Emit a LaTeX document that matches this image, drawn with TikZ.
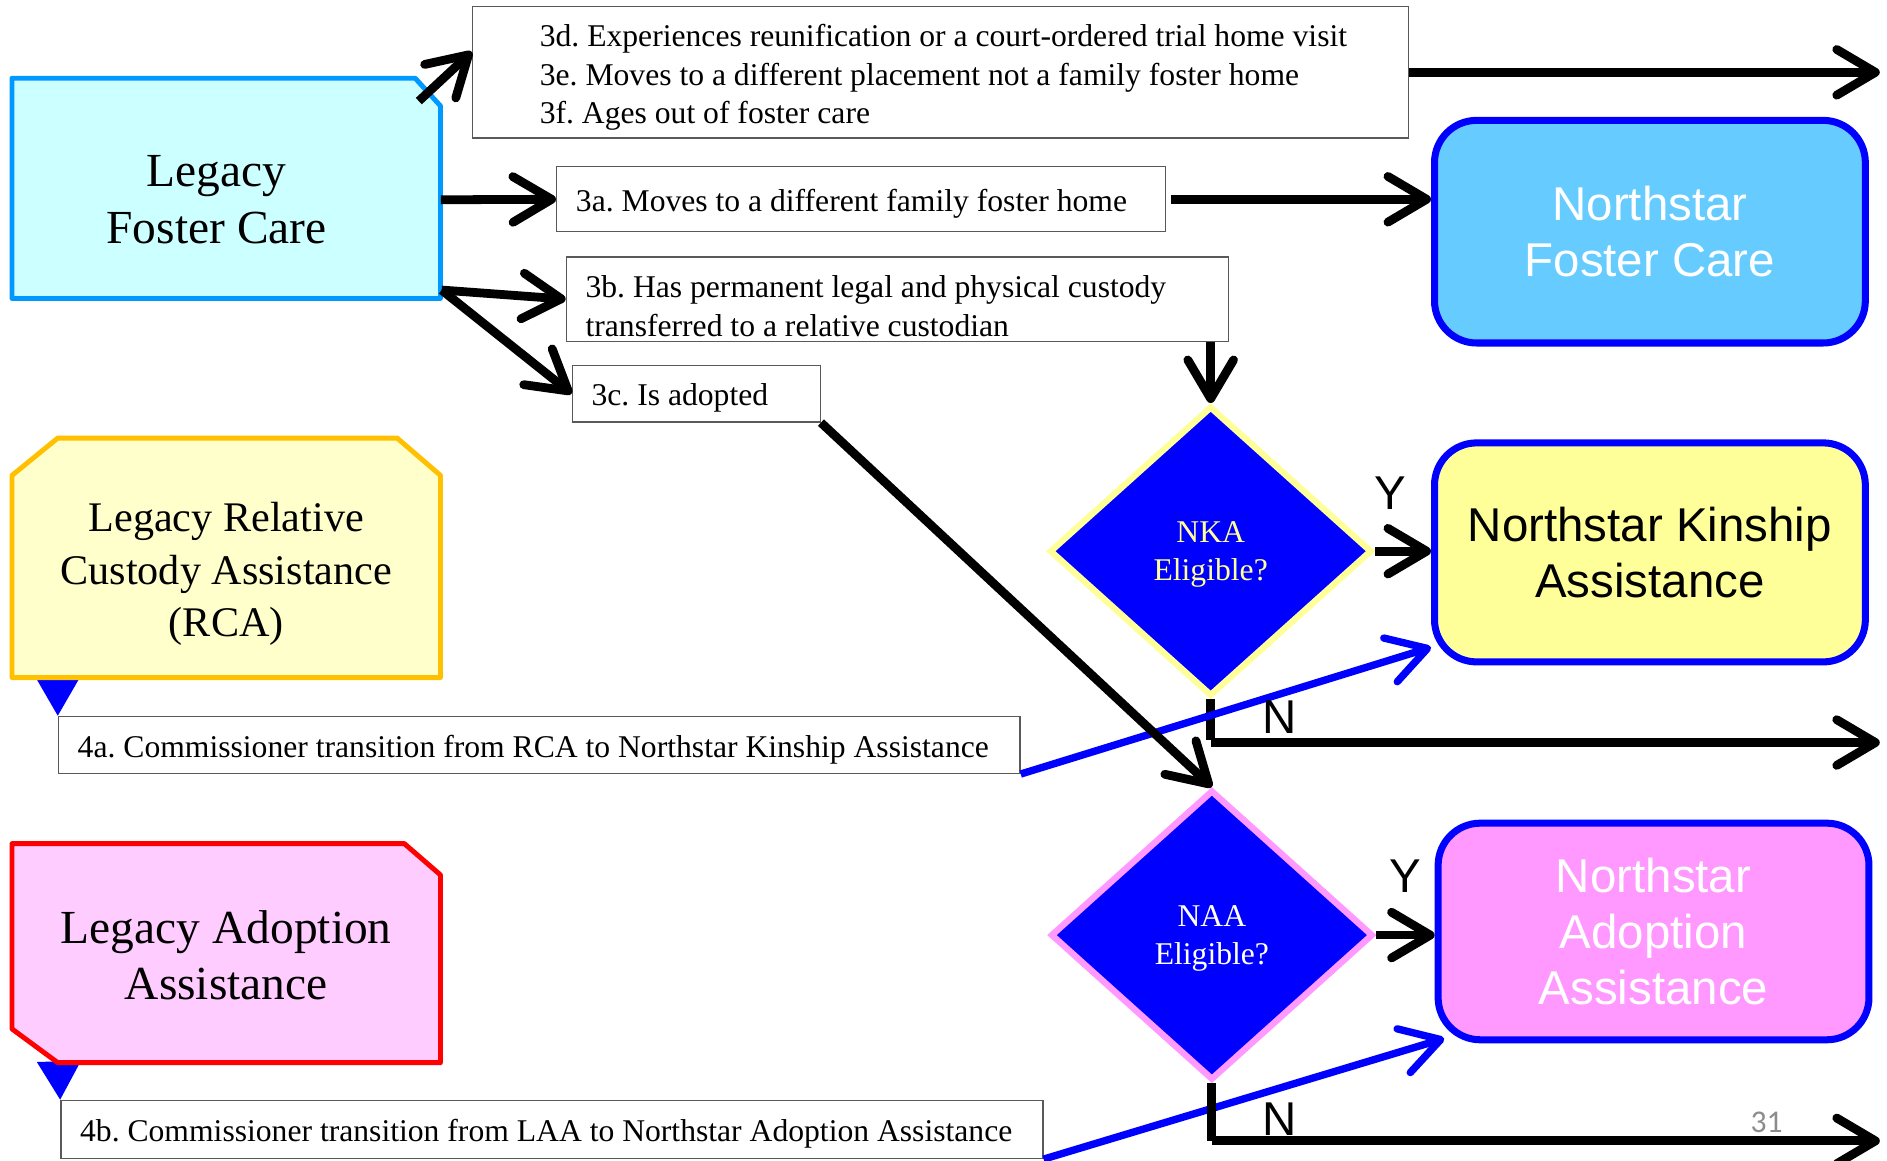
\documentclass[tikz,border=0pt]{standalone}
\usepackage{fontspec}
\setmainfont{Liberation Serif}
\setsansfont{Liberation Sans}
\newfontfamily\numfont{Carlito}
\usetikzlibrary{arrows.meta,shapes.geometric}
\newdimen\dpx
\dpx=0.24068mm
\definecolor{lfcfill}{HTML}{CCFFFF}
\definecolor{lfcline}{HTML}{0099FF}
\definecolor{rcafill}{HTML}{FFFFCC}
\definecolor{rcaline}{HTML}{FFC000}
\definecolor{laafill}{HTML}{FFCCFF}
\definecolor{nfcfill}{HTML}{66CCFF}
\definecolor{nkafill}{HTML}{FFFF99}
\definecolor{naafill}{HTML}{FF99FF}
\definecolor{boxline}{HTML}{595959}
\definecolor{numgray}{HTML}{8C8C8C}
\tikzset{
  flow/.style={line width=5pt, -{Straight Barb[round,length=22pt,width=26pt]}},
  bluflow/.style={flow, blue, line width=4.2pt},
  bluedrop/.style={blue, line width=4.2pt, -{Triangle[length=22pt,width=24pt]}},
  casebox/.style={draw=boxline, line width=0.8pt, fill=white, anchor=north west,
    inner xsep=16\dpx, inner ysep=0pt, align=flush left, text height=17.8pt,
    execute at begin node={\frenchspacing\hyphenpenalty=10000},
    font=\fontsize{18}{22}\selectfont},
  legacyshape/.style={line width=2.8pt, line join=round},
  legacytext/.style={align=center, inner sep=0pt, font=\fontsize{27}{32}\selectfont},
  northbox/.style={draw=blue, line width=4pt, rounded corners=24pt, minimum width=358\dpx,
    align=center, font=\sffamily\fontsize{27}{32}\selectfont},
  question/.style={diamond, fill=blue, line width=3.6pt, minimum width=268\dpx, minimum height=241\dpx,
    inner sep=0pt, align=center, text depth=0pt, font=\fontsize{18}{22}\selectfont},
  yn/.style={inner sep=0pt, font=\sffamily\fontsize{27}{32}\selectfont}
}
\begin{document}
\begin{tikzpicture}[x=\dpx, y=-\dpx]
    \useasboundingbox (0,0) rectangle (1568,964);
    \coordinate (rim) at (1562,0);
    \coordinate (kinship-exit) at (1562,617);
    \coordinate (adoption-exit) at (1562,948);

    % transition boxes
    \node[casebox, text width=706\dpx, inner xsep=36\dpx, text height=18.4pt, minimum height=109\dpx] (d3) at (392,5)
        {\hspace*{20\dpx}3d. Experiences reunification or a court-ordered trial home visit\\
         \hspace*{20\dpx}3e. Moves to a different placement not a family foster home\\
         \hspace*{20\dpx}3f. Ages out of foster care};
    \node[casebox, text width=474\dpx, minimum height=54\dpx] (a3) at (462,138)
        {3a. Moves to a different family foster home};
    \node[casebox, text width=518\dpx, text height=20.4pt, minimum height=70\dpx] (b3) at (470,213)
        {3b. Has permanent legal and physical custody\\transferred to a relative custodian};
    \node[casebox, text width=174\dpx, minimum height=47\dpx] (c3) at (475,303) {3c. Is adopted};
    \node[casebox, text width=767\dpx, minimum height=47\dpx] (a4) at (48,595)
        {4a. Commissioner transition from RCA to Northstar Kinship Assistance};
    \node[casebox, text width=784\dpx, minimum height=48\dpx] (b4) at (50,914)
        {4b. Commissioner transition from LAA to Northstar Adoption Assistance};

    \coordinate (rca-foot) at (48,563);
    \coordinate (laa-foot) at (49,882);
    \draw[bluedrop] (rca-foot) -- (a4.north west);
    \draw[bluedrop] (laa-foot) -- (b4.north west);

    % legacy programs
    \filldraw[legacyshape, fill=lfcfill, draw=lfcline] (10,65) -- (345,65) -- (366,88)
        -- (366,248) -- (10,248) -- cycle;
    \node[legacytext, minimum width=372\dpx] (lfc) at (180,166) {Legacy\\Foster Care};
    \coordinate (lfc-corner) at (348,84);
    \coordinate (lfc-foot) at (367,241);

    \filldraw[legacyshape, fill=rcafill, draw=rcaline] (10,395) -- (48,364) -- (330,364)
        -- (366,395) -- (366,563) -- (10,563) -- cycle;
    \node[legacytext, font=\fontsize{24}{30}\selectfont] (rca) at (188,477)
        {Legacy Relative\\Custody Assistance\\(RCA)};

    \filldraw[legacyshape, fill=laafill, draw=red] (10,701) -- (336,701) -- (366,727)
        -- (366,883) -- (48,883) -- (10,855) -- cycle;
    \node[legacytext] (laa) at (188,794) {Legacy Adoption\\Assistance};

    % northstar programs
    \node[northbox, fill=nfcfill, text=white, minimum height=185\dpx] (nfc) at (1371,192.5)
        {Northstar\\Foster Care};
    \node[northbox, fill=nkafill, minimum height=182\dpx] (nka) at (1371,459)
        {Northstar Kinship\\Assistance};
    \node[northbox, fill=naafill, text=white, minimum height=180\dpx] (naa) at (1374,774)
        {Northstar\\Adoption\\Assistance};

    \node[question, draw=nkafill, text=nkafill] (nkd) at (1006,458) {NKA\\Eligible?};
    \node[question, draw=naafill, text=white] (nad) at (1007,777) {NAA\\Eligible?};

    \draw[flow] (lfc-corner) -- ([yshift=17\dpx]d3.west);
    \draw[flow] (lfc.east) -- (a3.west);
    \draw[flow] (lfc-foot) -- (b3.west);
    \draw[flow] (lfc-foot) -- (c3.west);
    \draw[flow] (d3.east) -- (d3.east -| rim);
    \draw[flow] ([xshift=4\dpx]a3.east) -- (a3.east -| nfc.west);
    \draw[flow] (b3.south -| nkd.north) -- (nkd.north);
    \draw[flow] (nkd.east) -- (nkd.east -| nka.west);
    \draw[flow] (nad.east) -- (nad.east -| naa.west);

    \draw[line width=5pt] (nkd.south) -- ++(0,34);
    \draw[flow] (nkd.south |- kinship-exit) -- (kinship-exit);
    \draw[bluflow] (a4.south east) -- ([yshift=15\dpx]nka.south west);
    \draw[flow] (c3.south east) -- (nad.north);
    \draw[bluflow] (b4.south east) -- ([shift={(8\dpx,4\dpx)}]naa.south west);
    \draw[line width=5pt] (nad.south) -- ++(0,48);
    \draw[flow] (nad.south |- adoption-exit) -- (adoption-exit);

    \node[yn] (y-nka) at (1155,410) {Y};
    \node[yn] (n-nka) at (1063,596) {N};
    \node[yn] (y-naa) at (1168,728) {Y};
    \node[yn] (n-naa) at (1063,930) {N};
    \node[inner sep=0pt, text=numgray, font=\numfont\fontsize{18}{22}\selectfont] (slide) at (1468,933) {31};
\end{tikzpicture}
\end{document}
